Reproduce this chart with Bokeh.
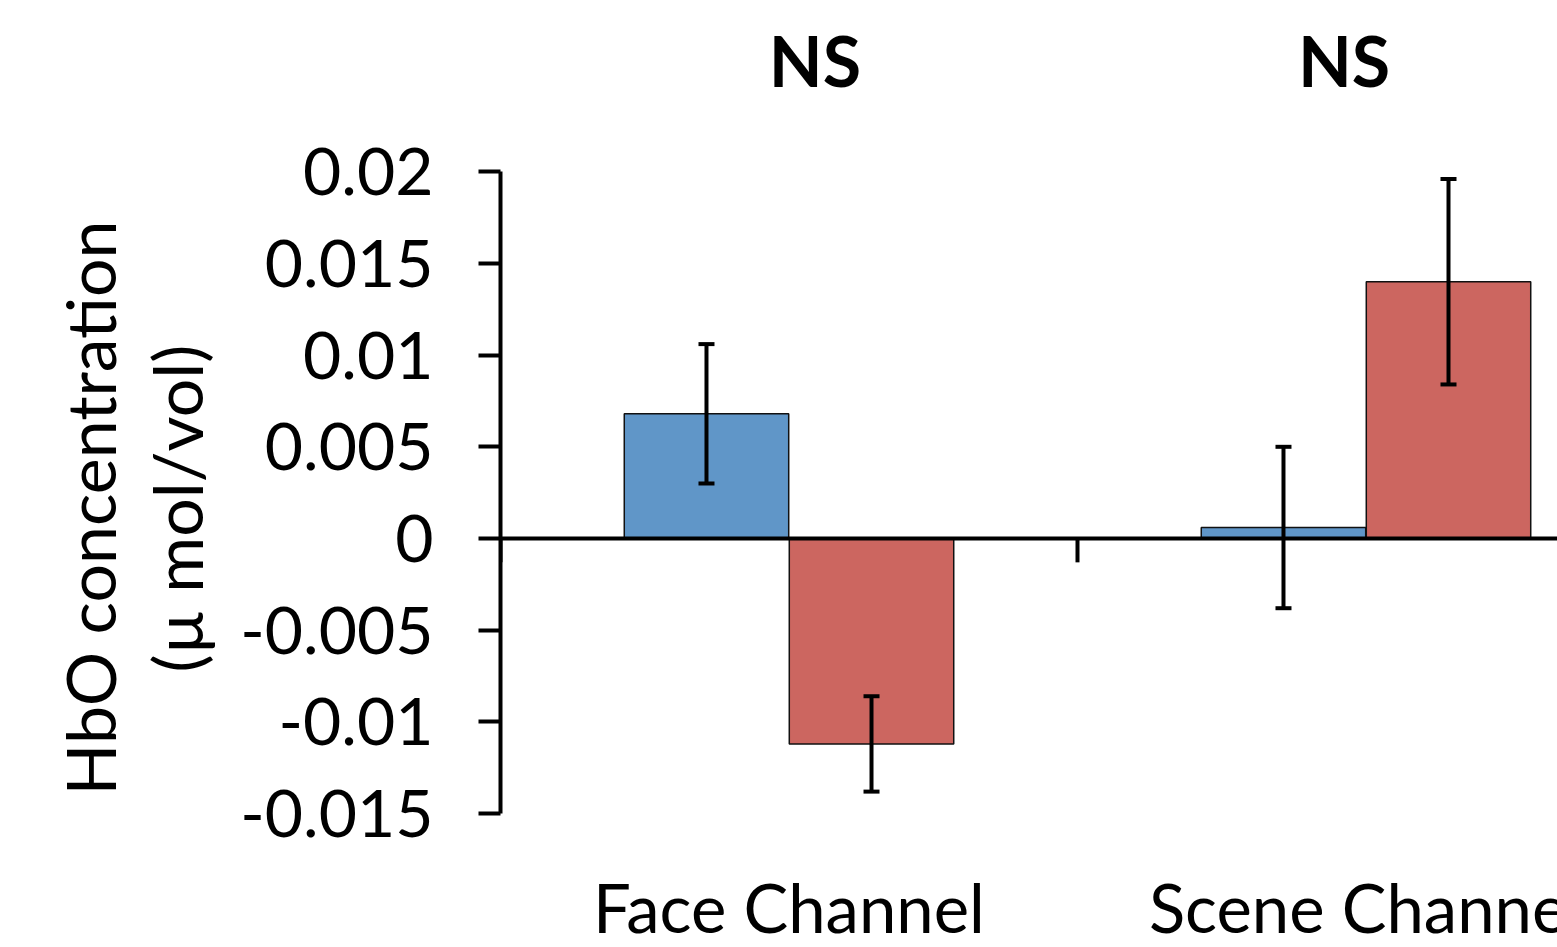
from bokeh.plotting import figure
from bokeh.models import (Range1d, ColumnDataSource, Whisker, TeeHead, Span, Title,
                          FixedTicker)
from bokeh.core.properties import value
from bokeh.embed import file_html
from bokeh.resources import INLINE

categories = ["Face Channel", "Scene Channel"]
blue_vals = [0.0068, 0.0006]
blue_err = [0.0038, 0.0044]
red_vals = [-0.0112, 0.0140]
red_err = [0.0026, 0.0056]
sig_labels = ["NS", "NS"]
y_ticks = [-0.015, -0.01, -0.005, 0, 0.005, 0.01, 0.015, 0.02]
y_tick_labels = ["-0.015", "-0.01", "-0.005", "0", "0.005", "0.01", "0.015", "0.02"]
y_title = ["HbO concentration", "(\u00b5 mol/vol)"]

BLUE = "#6096C8"
RED = "#CC6660"
FONT = "Lato"

p = figure(width=1557, height=947, output_backend="svg", toolbar_location=None,
           x_range=Range1d(0, 1.8319), y_range=Range1d(-0.0223, 0.029335),
           x_axis_location=None,
           min_border_left=500, min_border_right=0, min_border_top=0, min_border_bottom=0)
p.outline_line_color = None
p.grid.visible = False
p.background_fill_color = "white"
p.border_fill_color = "white"

centers = [i + 0.5 for i in range(len(categories))]
off = 0.143
bw = 0.285

src_b = ColumnDataSource(dict(x=[c - off for c in centers], top=blue_vals,
                              upper=[v + e for v, e in zip(blue_vals, blue_err)],
                              lower=[v - e for v, e in zip(blue_vals, blue_err)]))
src_r = ColumnDataSource(dict(x=[c + off for c in centers], top=red_vals,
                              upper=[v + e for v, e in zip(red_vals, red_err)],
                              lower=[v - e for v, e in zip(red_vals, red_err)]))

p.vbar(x="x", top="top", bottom=0, width=bw, source=src_b, fill_color=BLUE,
       line_color="#111111", line_width=1.5)
p.vbar(x="x", top="top", bottom=0, width=bw, source=src_r, fill_color=RED,
       line_color="#111111", line_width=1.5)

# zero line (category axis)
p.add_layout(Span(location=0, dimension="width", line_color="black", line_width=4))

# category boundary ticks on the zero line
bounds = list(range(len(categories)))
p.segment(x0=bounds, y0=[0] * len(bounds), x1=bounds, y1=[-0.0013] * len(bounds),
          line_color="black", line_width=4)

for src in (src_b, src_r):
    p.add_layout(Whisker(source=src, base="x", upper="upper", lower="lower",
                         line_color="black", line_width=4, level="overlay",
                         upper_head=TeeHead(size=16, line_width=4, line_color="black"),
                         lower_head=TeeHead(size=16, line_width=4, line_color="black")))

# category labels
p.text(x=centers, y=[-0.02007] * len(centers), text=categories, text_font=value(FONT),
       text_font_size="67px", text_align="center", text_baseline="middle",
       text_color="black")

# NS labels
ns_x = [0.545, 1.462]
p.text(x=ns_x, y=[0.0261] * 2, text=sig_labels, text_font=value(FONT),
       text_font_style="bold", text_font_size="70px", text_align="center",
       text_baseline="middle", text_color="black")

# y axis
ya = p.yaxis[0]
ya.bounds = (-0.015, 0.02)
ya.ticker = FixedTicker(ticks=y_ticks)
ya.major_label_overrides = {t: l for t, l in zip(y_ticks, y_tick_labels)}
ya.axis_line_width = 4
ya.axis_line_color = "black"
ya.major_tick_line_width = 4
ya.major_tick_out = 22
ya.major_tick_in = 0
ya.minor_tick_line_color = None
ya.major_label_standoff = 45
ya.major_label_text_font = FONT
ya.major_label_text_font_size = "66px"
ya.major_label_text_color = "black"

# y axis title, two lines, as left-side titles
spacer = Title(text=" ", text_font_size="1px", standoff=16)
t1 = Title(text=y_title[1], align="left", offset=275, standoff=4, text_font=FONT,
           text_font_size="68px", text_font_style="normal", text_color="black")
t2 = Title(text=y_title[0], align="left", offset=152, standoff=4, text_font=FONT,
           text_font_size="68px", text_font_style="normal", text_color="black")
p.add_layout(spacer, "left")
p.add_layout(t1, "left")
p.add_layout(t2, "left")

open("out.html", "w").write(file_html(p, INLINE))
